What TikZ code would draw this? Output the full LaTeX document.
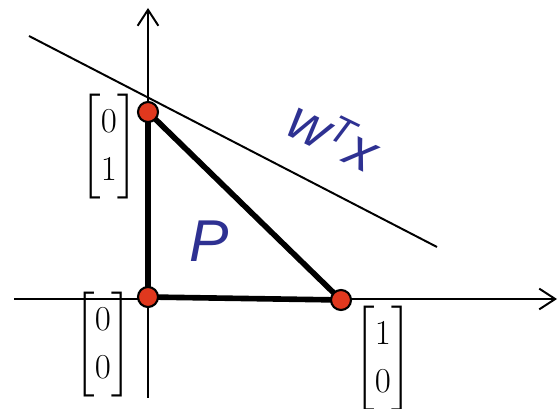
\documentclass[tikz,border=0pt]{standalone}
\usepackage{amsmath}
\usepackage{fontspec}
\setmainfont{Liberation Serif}
\newfontfamily\labelfont{Liberation Sans}
\usetikzlibrary{arrows.meta}
\definecolor{dotred}{RGB}{224,56,30}
\definecolor{labelblue}{RGB}{46,49,146}
\begin{document}
\begin{tikzpicture}[>={Straight Barb[length=4mm, width=5.2mm]}, line width=1.4pt,
  dot/.style={circle, fill=dotred, draw=black, line width=1.5pt, inner sep=0pt, minimum size=0.5cm},
  vec/.style={font=\fontsize{28}{34}\selectfont, inner sep=0pt},
  lbl/.style={text=labelblue, font=\labelfont\itshape, inner sep=0pt}]
\useasboundingbox (0,0) rectangle (13.975,10.225);
% axes
\coordinate (xl) at (0.35,2.75);
\coordinate (xr) at (13.925,2.75);
\coordinate (yb) at (3.7,0.275);
\coordinate (yt) at (3.7,10.025);
\draw[->] (xl) -- (xr);
\draw[->] (yb) -- (yt);
% objective line
\coordinate (l1) at (0.725,9.325);
\coordinate (l2) at (10.925,4.05);
\draw (l1) -- (l2);
% polytope
\coordinate (o) at (3.7,2.8);
\coordinate (a) at (3.7,7.425);
\coordinate (b) at (8.525,2.725);
\draw[line width=4pt] (o) -- (a) -- (b) -- cycle;
\node[dot] (do) at (o) {};
\node[dot] (da) at (a) {};
\node[dot] (db) at (b) {};
% labels
\node[vec] (va) at (2.725,6.55) {$\begin{bmatrix}0\\1\end{bmatrix}$};
\node[vec] (vo) at (2.575,1.6) {$\begin{bmatrix}0\\0\end{bmatrix}$};
\node[vec] (vb) at (9.575,1.25) {$\begin{bmatrix}1\\0\end{bmatrix}$};
\node[lbl, font=\labelfont\itshape\fontsize{42}{42}\selectfont] (p) at (5.225,4.2) {P};
\node[lbl, font=\labelfont\itshape\fontsize{40}{40}\selectfont, rotate=-26] (wx) at (8.35,6.85)
  {w\raisebox{0.5ex}{\fontsize{27}{27}\selectfont T}x};
\end{tikzpicture}
\end{document}
